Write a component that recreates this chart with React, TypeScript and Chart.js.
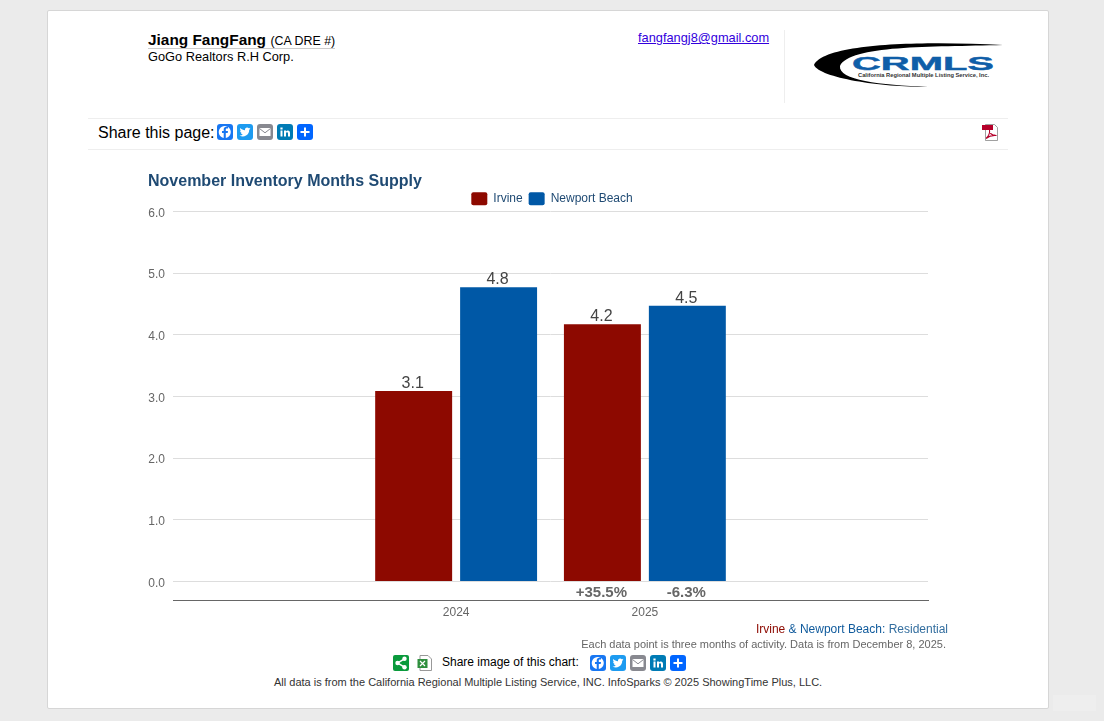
import { useEffect, useRef } from "react";
import Chart from "chart.js/auto";
import type { CSSProperties } from "react";

const FONT = 'Arial, "Liberation Sans", Helvetica, sans-serif';

const categories = ["", "2024", "2025", ""];
const irvine = [null, 3.09, 4.17, null];
const newportBeach = [null, 4.77, 4.47, null];
const irvineChange = ["", "", "+35.5%", ""];
const newportChange = ["", "", "-6.3%", ""];
const yTicks = [0, 1, 2, 3, 4, 5, 6];

const RED = "#8d0900";
const BLUE = "#0058a6";

// value labels above the bars and the % change under them
const barLabels = {
  id: "barLabels",
  // legend sits a bit lower than its layout box
  afterLayout(chart: Chart) {
    if (chart.legend) chart.legend.top += 3.7;
  },
  afterDatasetsDraw(chart: Chart) {
    const { ctx } = chart;
    const zero = chart.scales.y.getPixelForValue(0);
    const changes = [irvineChange, newportChange];
    ctx.save();
    ctx.textAlign = "center";
    chart.data.datasets.forEach((ds, i) => {
      chart.getDatasetMeta(i).data.forEach((bar, j) => {
        const v = ds.data[j] as number | null;
        if (v == null) return;
        ctx.font = `16px ${FONT}`;
        ctx.fillStyle = "#444444";
        ctx.textBaseline = "alphabetic";
        ctx.fillText(v.toFixed(1), bar.x - 1, bar.y - 3);
        if (changes[i][j]) {
          ctx.font = `bold 15px ${FONT}`;
          ctx.fillStyle = "#666666";
          ctx.fillText(changes[i][j], bar.x - 1, zero + 16);
        }
      });
    });
    ctx.restore();
  },
};

const abs = (left: number, top: number, extra: CSSProperties = {}): CSSProperties => ({
  position: "absolute",
  left,
  top,
  whiteSpace: "nowrap",
  ...extra,
});

const SHARE_COLORS = ["#1877f2", "#1d9bf0", "#888990", "#007bb5", "#0166ff"];

const ShareIcon = ({ x, y, kind }: { x: number; y: number; kind: number }) => (
  <svg width="16" height="16" viewBox="0 0 16 16" style={abs(x, y)}>
    <rect width="16" height="16" rx="3" fill={SHARE_COLORS[kind]} />
    {kind === 0 && (
      <path
        d="M8.8 14V8.9h1.9l.3-2H8.8V5.6c0-.6.3-1 1-1h1.2V2.8c-.4 0-1-.1-1.6-.1-1.7 0-2.7 1-2.7 2.7v1.5H5v2h1.7V14a6 6 0 1 1 2.1 0z"
        fill="#fff"
      />
    )}
    {kind === 1 && (
      <path
        d="M13.5 4.6c-.4.2-.8.3-1.3.4.5-.3.8-.7 1-1.2-.4.3-.9.4-1.4.5a2.2 2.2 0 0 0-3.8 2C6.200 6.200 4.500 5.300 3.400 4c-.6 1-.3 2.300.7 3-.4 0-.7-.1-1-.3 0 1.100.8 2 1.800 2.200-.3.1-.7.1-1 0 .3.900 1.100 1.500 2.100 1.500A4.500 4.500 0 0 1 2.500 11.400a6.300 6.300 0 0 0 9.700-5.600c.5-.3.9-.7 1.300-1.200z"
        fill="#fff"
      />
    )}
    {kind === 2 && (
      <g>
        <rect x="2.500" y="4" width="11" height="8" fill="#fff" />
        <path d="M2.500 4.500 8 8.800l5.500-4.300" fill="none" stroke="#888990" strokeWidth="1" />
      </g>
    )}
    {kind === 3 && (
      <path d="M3.500 6.500h2v6h-2zM3.400 3.500h2.200v2H3.400zM7 6.500h2v.9c.4-.6 1-1 1.900-1 1.400 0 2.100.9 2.100 2.500v3.600h-2V9.400c0-.8-.3-1.200-.9-1.200-.7 0-1.100.5-1.100 1.300v3H7z" fill="#fff" />
    )}
    {kind === 4 && <path d="M7 3.500h2V7h3.500v2H9v3.500H7V9H3.500V7H7z" fill="#fff" />}
  </svg>
);

const ShareRow = ({ x, y }: { x: number; y: number }) => (
  <>
    {SHARE_COLORS.map((_, i) => (
      <ShareIcon key={i} x={x + i * 20} y={y} kind={i} />
    ))}
  </>
);

const CrmlsLogo = () => (
  <svg width="205" height="60" viewBox="805 35 205 60" style={abs(805, 35)}>
    <path
      d="M1003 45C930 41 825 42 814 65C820 78 880 87 928 87C880 85 838 80 840 66C850 45 930 47 1003 45Z"
      fill="#000"
    />
    <text
      x="852"
      y="70"
      textLength="142"
      lengthAdjust="spacingAndGlyphs"
      fontFamily={FONT}
      fontWeight="bold"
      fontSize="18"
      fill="#0f5ea8"
      stroke="#0f5ea8"
      strokeWidth="0.4"
    >
      CRMLS
    </text>
    <text
      x="858"
      y="77"
      textLength="131"
      lengthAdjust="spacingAndGlyphs"
      fontFamily={FONT}
      fontWeight="bold"
      fontSize="5.500"
      fill="#333"
    >
      California Regional Multiple Listing Service, Inc.
    </text>
  </svg>
);

const PdfIcon = () => (
  <svg width="17" height="17" viewBox="0 0 17 17" style={abs(982, 124)}>
    <path d="M3.500 .5h9l3 3v13h-12z" fill="#fff" stroke="#777" strokeWidth="0.7" />
    <rect x="0" y="1" width="11" height="5" fill="#b5002a" />
    <path d="M4 14.500C7 12 8 8 7.500 6.500 7 8 9.500 12 14.500 11.500 10 11 6.500 12.500 4 14.500Z" fill="none" stroke="#b5002a" strokeWidth="1.100" />
  </svg>
);

const App = () => {
  const canvasRef = useRef<HTMLCanvasElement | null>(null);

  useEffect(() => {
    if (!canvasRef.current) return;
    document.body.style.margin = "0";
    document.body.style.background = "#ebebeb";

    const chart = new Chart(canvasRef.current, {
      type: "bar",
      data: {
        labels: categories,
        datasets: [
          { label: "Irvine", data: irvine, backgroundColor: RED, borderWidth: 0 },
          { label: "Newport Beach", data: newportBeach, backgroundColor: BLUE, borderWidth: 0 },
        ],
      },
      options: {
        responsive: true,
        maintainAspectRatio: false,
        animation: false,
        categoryPercentage: 0.9,
        barPercentage: 0.906,
        plugins: {
          title: {
            display: true,
            text: "November Inventory Months Supply",
            align: "start",
            color: "#1f4a73",
            font: { family: FONT, size: 16, weight: "bold" },
            padding: { top: 4, bottom: -8.7 },
          },
          legend: {
            position: "top",
            labels: {
              boxWidth: 16,
              boxHeight: 13,
              padding: 6,
              color: "#1f4a73",
              useBorderRadius: true,
              borderRadius: 2,
              font: { family: FONT, size: 12 },
            },
          },
          tooltip: { enabled: false },
        },
        scales: {
          x: {
            grid: { display: false, drawTicks: false },
            border: { color: "#666666", width: 1 },
            ticks: {
              color: "#666666",
              padding: 5,
              font: { family: FONT, size: 12 },
              maxRotation: 0,
              autoSkip: false,
            },
            afterFit: (scale) => {
              scale.height = 27.5;
            },
          },
          y: {
            min: -0.31,
            max: 6,
            grid: { color: "#dddddd", drawTicks: false },
            border: { display: false },
            ticks: {
              color: "#666666",
              padding: 8,
              labelOffset: 2,
              font: { family: FONT, size: 12 },
              callback: (v) => Number(v).toFixed(1),
            },
            afterBuildTicks: (scale) => {
              scale.ticks = yTicks.map((value) => ({ value }));
            },
            afterFit: (scale) => {
              scale.width = 25;
            },
          },
          // empty axis, only keeps the space right of the plot
          spacer: {
            position: "right",
            grid: { display: false },
            border: { display: false },
            ticks: { display: false },
            afterFit: (scale) => {
              scale.width = 28;
            },
          },
        },
      },
      plugins: [barLabels],
    });

    return () => chart.destroy();
  }, []);

  return (
    <div style={{ position: "relative", width: 1104, height: 721, fontFamily: FONT, overflow: "hidden", color: "#000" }}>
      <div style={abs(1053, 695, { width: 43, height: 16, background: "#eeeeee" })} />
      <div
        style={abs(47, 10, {
          width: 1000,
          height: 697,
          background: "#fff",
          border: "1px solid #d6d6d6",
          borderRadius: 2,
        })}
      />

      <div style={abs(148, 31, { borderBottom: "1px solid #cccccc", height: 17, lineHeight: "17px" })}>
        <span style={{ fontWeight: "bold", fontSize: 15.4 }}>Jiang FangFang</span>{" "}
        <span style={{ fontSize: 12.4 }}>(CA DRE #)</span>
      </div>
      <div style={abs(148, 49, { fontSize: 12.8, lineHeight: "16px" })}>GoGo Realtors R.H Corp.</div>
      <a href="#" style={abs(638, 30, { fontSize: 12.8, lineHeight: "16px", color: "#3300dd" })}>
        fangfangj8@gmail.com
      </a>
      <div style={abs(784, 30, { width: 1, height: 73, background: "#eeeeee" })} />
      <CrmlsLogo />

      <div style={abs(88, 118, { width: 920, height: 30, borderTop: "1px solid #eeeeee", borderBottom: "1px solid #eeeeee" })} />
      <div style={abs(98, 123, { fontSize: 16, lineHeight: "19px" })}>Share this page:</div>
      <ShareRow x={217} y={124} />
      <PdfIcon />

      <div style={abs(148, 168, { width: 808, height: 460 })}>
        <canvas ref={canvasRef}></canvas>
      </div>

      <div style={{ ...abs(0, 622, { fontSize: 12, lineHeight: "15px", color: "#0f5a9c" }), left: "auto", right: 156 }}>
        <span style={{ color: RED }}>Irvine</span> &amp; Newport Beach: <span style={{ color: "#336e9f" }}>Residential</span>
      </div>
      <div style={{ ...abs(0, 637, { fontSize: 11, lineHeight: "14px", color: "#666666" }), left: "auto", right: 158 }}>
        Each data point is three months of activity. Data is from December 8, 2025.
      </div>

      <svg width="16" height="16" viewBox="0 0 16 16" style={abs(393, 655)}>
        <rect width="16" height="16" rx="2" fill="#0a9a3c" />
        <path d="M11.500 3.800 4.500 8l7 4.200" fill="none" stroke="#fff" strokeWidth="1.500" />
        <circle cx="4.500" cy="8" r="2.200" fill="#fff" />
        <circle cx="11.500" cy="3.800" r="2.200" fill="#fff" />
        <circle cx="11.500" cy="12.200" r="2.200" fill="#fff" />
      </svg>
      <svg width="16" height="16" viewBox="0 0 16 16" style={abs(417, 655)}>
        <path d="M3 .5h8l3.500 3.500v11.500H3z" fill="#fff" stroke="#999" />
        <rect x="0.500" y="4" width="10" height="9" fill="#2f8f3e" />
        <path d="M3 6l5 5M8 6l-5 5" stroke="#fff" strokeWidth="1.200" />
      </svg>
      <div style={abs(442, 655, { fontSize: 12, lineHeight: "15px" })}>Share image of this chart:</div>
      <ShareRow x={590} y={655} />
      <div style={abs(274, 675, { fontSize: 11, lineHeight: "14px", color: "#333333" })}>
        All data is from the California Regional Multiple Listing Service, INC. InfoSparks © 2025 ShowingTime Plus, LLC.
      </div>
    </div>
  );
};

export default App;
